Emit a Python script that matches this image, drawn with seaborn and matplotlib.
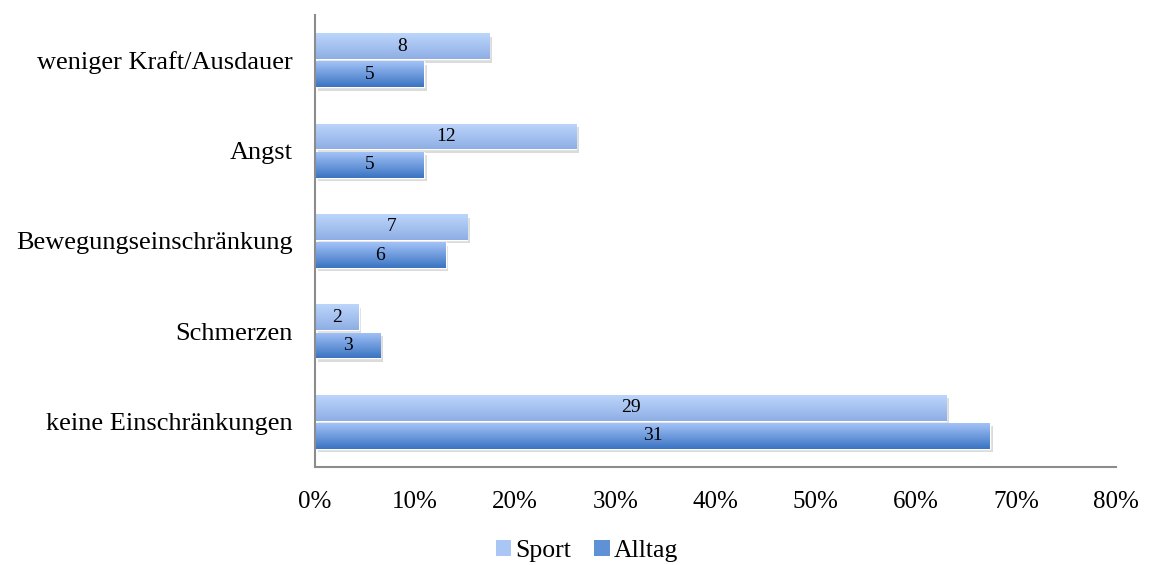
import numpy as np
import pandas as pd
import seaborn as sns
import matplotlib.pyplot as plt
import matplotlib.patheffects as pe
from matplotlib.colors import LinearSegmentedColormap
from matplotlib.patches import Patch
from matplotlib.ticker import PercentFormatter

# data (counts, n = 46 respondents)
categories = ['weniger Kraft/Ausdauer', 'Angst', 'Bewegungseinschränkung',
              'Schmerzen', 'keine Einschränkungen']
sport_counts = [8, 12, 7, 2, 29]
alltag_counts = [5, 5, 6, 3, 31]
n_total = 46
series = ['Sport', 'Alltag']

df = pd.DataFrame({
    'category': categories * 2,
    'group': ['Sport'] * len(categories) + ['Alltag'] * len(categories),
    'count': sport_counts + alltag_counts,
})
df['percent'] = df['count'] / n_total * 100

sns.set_style('white')
plt.rcParams['font.family'] = ['Liberation Serif', 'DejaVu Serif']
plt.rcParams['text.color'] = 'black'
plt.rcParams['xtick.color'] = 'black'
plt.rcParams['ytick.color'] = 'black'

# top / bottom colours of the gradients
grad = {
    'Sport': ('#bcd5fc', '#8eaee3'),
    'Alltag': ('#a3c2f7', '#3a74c2'),
}
solid = {'Sport': '#a9c6f5', 'Alltag': '#5f91d6'}

fig = plt.figure(figsize=(11.49, 5.65), dpi=100)
ax = fig.add_axes([315 / 1149, 1 - 467 / 565, (1116 - 315) / 1149, (467 - 15) / 565])

sns.barplot(data=df, x='percent', y='category', hue='group', hue_order=series,
            palette=solid, orient='y', width=0.62, gap=0.08, legend=False, ax=ax)

ax.set_xlim(0, 80)
ax.set_ylim(4.5, -0.5)
ax.xaxis.set_major_locator(plt.MultipleLocator(10))
ax.xaxis.set_major_formatter(PercentFormatter(decimals=0))
ax.set_xlabel('')
ax.set_ylabel('')

for s in ['top', 'right']:
    ax.spines[s].set_visible(False)
for s in ['left', 'bottom']:
    ax.spines[s].set_color('#8c8c8c')
    ax.spines[s].set_linewidth(1.5)
ax.tick_params(axis='x', which='major', direction='out', length=8, width=1.5,
               color='#8c8c8c', labelcolor='black', labelsize=18, pad=9)
ax.tick_params(axis='y', length=0, labelsize=19, labelcolor='black', pad=16)

# gradient fill + soft shadow for every bar
for container, name in zip(ax.containers, series):
    top, bottom = grad[name]
    cmap = LinearSegmentedColormap.from_list(name, [top, bottom])
    for bar in container:
        x0, y0 = bar.get_x(), bar.get_y()
        w, h = bar.get_width(), bar.get_height()
        bar.set_path_effects([pe.SimplePatchShadow(offset=(2, -2.5), shadow_rgbFace='#9a9a9a', alpha=0.35),
                              pe.Normal()])
        img = ax.imshow(np.linspace(0, 1, 64).reshape(-1, 1), cmap=cmap, aspect='auto',
                        extent=(x0, x0 + w, y0 + h, y0), origin='upper', zorder=bar.get_zorder() + 0.1)
        img.set_clip_path(bar)

ax.set_xlim(0, 80)
ax.set_ylim(4.5, -0.5)

for container, counts in zip(ax.containers, [sport_counts, alltag_counts]):
    ax.bar_label(container, labels=[str(c) for c in counts], label_type='center',
                 fontsize=14, color='black', zorder=5)

handles = [Patch(facecolor=solid[s], edgecolor='none') for s in series]
fig.legend(handles, series, loc='center', bbox_to_anchor=(587 / 1149, 1 - 551 / 565),
           ncol=2, frameon=False, fontsize=18.5, handlelength=0.6, handleheight=0.6,
           handletextpad=0.15, columnspacing=0.9)

fig.savefig('out.png', dpi=100)
